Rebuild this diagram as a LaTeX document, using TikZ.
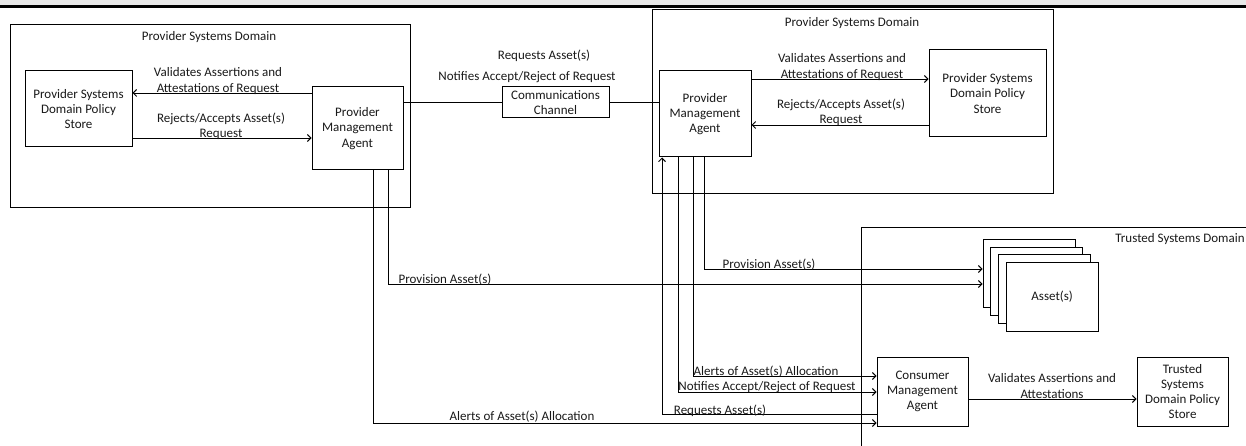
\documentclass[tikz,border=0pt]{standalone}
\usepackage{fontspec}
\setmainfont{Carlito}
\usetikzlibrary{arrows.meta}
\begin{document}
\begin{tikzpicture}[x=1pt,y=-1pt,
  every node/.style={font=\fontsize{13}{15.3}\selectfont, inner sep=0pt, align=center, text=black!90},
  boxnode/.style={draw, fill=white, line width=1pt, minimum width=#1},
  domain/.style={draw, line width=1pt, minimum width=#1},
  conn/.style={line width=0.9pt},
  arr/.style={conn, -{Straight Barb[length=3.5pt,width=7pt]}}
]
\useasboundingbox (0,0) rectangle (1246,446);

% header band
\fill[gray!18] (0,0) rectangle (1246,5);
\fill[black] (0,5) rectangle (1246,8);

% system domains
\node[domain=400pt, minimum height=183pt] (LD) at (210,116.5) {};
\node[domain=401pt, minimum height=184pt] (RD) at (852.5,102) {};
\node (LDt) at (209,37) {Provider Systems Domain};
\node (RDt) at (852,23) {Provider Systems Domain};

% trusted systems domain outline
\coordinate (TDa) at (861,446);
\coordinate (TDb) at (1246,227);
\draw[conn] (TDa) |- (TDb);
\node (TDt) at (1180,239) {Trusted Systems Domain};

% components
\node[boxnode=107pt, minimum height=76pt] (LS) at (78.5,109) {Provider Systems\\Domain Policy\\Store};
\node[boxnode=91pt, minimum height=83pt] (LP) at (357.5,128.5) {Provider\\Management\\Agent};
\node[boxnode=107pt, minimum height=31pt] (CC) at (555.5,102.5) {Communications\\Channel};
\node[boxnode=92pt, minimum height=86pt] (RP) at (705,114) {Provider\\Management\\Agent};
\node[boxnode=117pt, minimum height=87pt] (RS) at (987.5,93.5) {Provider Systems\\Domain Policy\\Store};
\node[boxnode=91pt, minimum height=69pt] (CMA) at (922.5,391.5) {Consumer\\Management\\Agent};
\node[boxnode=91pt, minimum height=69pt] (TS) at (1182.5,391.5) {Trusted\\Systems\\Domain Policy\\Store};

% stacked assets
\node[boxnode=92pt, minimum height=68pt] (A1) at (1029,273) {};
\node[boxnode=92pt, minimum height=68pt] (A2) at (1036.7,281) {};
\node[boxnode=92pt, minimum height=69pt] (A3) at (1044.4,288.5) {};
\node[boxnode=92pt, minimum height=69pt] (A4) at (1052.1,296.5) {Asset(s)};

% left domain exchanges
\draw[arr] (LP.west |- 0,93) -- (LS.east |- 0,93);
\draw[arr] (LS.east |- 0,138) -- (LP.west |- 0,138);
\node (lv) at (218,81) {Validates Assertions and\\Attestations of Request};
\node (lr) at (221,126.5) {Rejects/Accepts Asset(s)\\Request};

% channel between providers
\draw[conn] (LP.east |- CC.west) -- (CC.west);
\draw[conn] (CC.east) -- (RP.west |- CC.east);
\node (cr) at (544,56) {Requests Asset(s)};
\node (cn) at (527,77) {Notifies Accept/Reject of Request};

% right domain exchanges
\draw[arr] (RP.east |- 0,79) -- (RS.west |- 0,79);
\draw[arr] (RS.west |- 0,125) -- (RP.east |- 0,125);
\node (rv) at (842,67) {Validates Assertions and\\Attestations of Request};
\node (rr) at (841,112) {Rejects/Accepts Asset(s)\\Request};

% provisioning and alerts
\draw[arr] (LP.south -| 388,0) |- (A1.west |- 0,284);
\draw[arr] (LP.south -| 373,0) |- (CMA.west |- 0,423);
\draw[arr] (RP.south -| 704,0) |- (A1.west |- 0,269);
\draw[arr] (RP.south -| 693,0) |- (CMA.west |- 0,376);
\draw[arr] (RP.south -| 678,0) |- (CMA.west |- 0,392);
\draw[arr] (CMA.west |- 0,414) -| (RP.south -| 662,0);
\draw[arr] (CMA.east |- 0,399) -- (TS.west |- 0,399);

\node (lpa) at (445,280) {Provision Asset(s)};
\node (laa) at (522,417) {Alerts of Asset(s) Allocation};
\node (rpa) at (769,265) {Provision Asset(s)};
\node (raa) at (766,372) {Alerts of Asset(s) Allocation};
\node (rna) at (767,387) {Notifies Accept/Reject of Request};
\node (rra) at (720,411) {Requests Asset(s)};
\node (cva) at (1052,386) {Validates Assertions and\\Attestations};
\end{tikzpicture}
\end{document}
